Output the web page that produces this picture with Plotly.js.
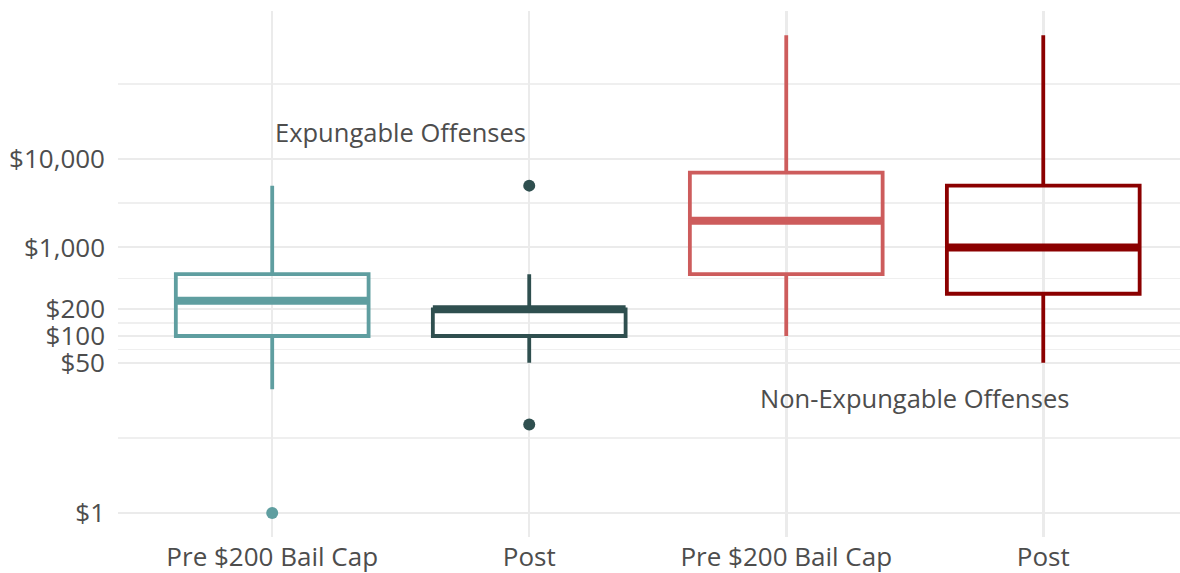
<!DOCTYPE html>
<html>
<head>
<meta charset="utf-8">
<script src="https://cdn.plot.ly/plotly-3.0.1.min.js"></script>
<style>html,body{margin:0;padding:0;background:#fff;}#chart{width:1180px;height:573px;}</style>
</head>
<body>
<div id="chart"></div>
<script>
// ---- data ----
const categories = ['Pre $200 Bail Cap', 'Post', 'Pre $200 Bail Cap', 'Post'];
const lowerWhisker = [25, 50, 100, 50];
const q1Values = [100, 100, 500, 300];
const medianValues = [250, 200, 2000, 1000];
const q3Values = [500, 200, 7000, 5000];
const upperWhisker = [5000, 500, 250000, 250000];
const outlierIndex = [0, 1, 1];
const outlierValues = [1, 5000, 10];
const colors = ['#5F9EA0', '#2F4F4F', '#CD5C5C', '#8B0000'];
const yTickVals = [1, 50, 100, 200, 1000, 10000];
const yTickText = ['$1', '$50', '$100', '$200', '$1,000', '$10,000'];
const yMinorVals = [7.07, 70.7, 141, 447, 3162, 70700];
const groupLabels = ['Expungable Offenses', 'Non-Expungable Offenses'];
const groupLabelX = [0.5, 2.5];
const groupLabelY = [20000, 20];

const boxWidth = 0.75;
const traces = [];
categories.forEach((c, i) => {
  traces.push({
    type: 'box', x: [i],
    q1: [q1Values[i]], median: [medianValues[i]], q3: [q3Values[i]],
    lowerfence: [lowerWhisker[i]], upperfence: [upperWhisker[i]],
    width: boxWidth, whiskerwidth: 0, boxpoints: false,
    fillcolor: 'rgba(255,255,255,0)',
    line: {color: colors[i], width: 3.8},
    hoverinfo: 'skip', showlegend: false
  });
});
categories.forEach((c, i) => {
  traces.push({
    type: 'scatter', mode: 'lines',
    x: [i - boxWidth / 2, i + boxWidth / 2],
    y: [medianValues[i], medianValues[i]],
    line: {color: colors[i], width: 8},
    hoverinfo: 'skip', showlegend: false
  });
});
traces.push({
  type: 'scatter', mode: 'markers',
  x: outlierIndex, y: outlierValues,
  marker: {color: outlierIndex.map(k => colors[k]), size: 12},
  hoverinfo: 'skip', showlegend: false
});

const textColor = '#4D4D4D';
const font = 'Open Sans, Lato, sans-serif';
const layout = {
  width: 1180, height: 573,
  margin: {l: 118, r: 0, t: 11, b: 36},
  paper_bgcolor: '#fff', plot_bgcolor: '#fff',
  font: {family: font, color: textColor, size: 24},
  showlegend: false,
  xaxis: {
    type: 'linear', range: [-0.6, 3.532],
    tickvals: [0, 1, 2, 3], ticktext: categories,
    showgrid: true, gridcolor: '#EBEBEB', gridwidth: 2.5,
    zeroline: false, showline: false, ticks: '',
    ticklabelstandoff: 2,
    tickfont: {size: 26, color: textColor, family: font},
    automargin: false, fixedrange: true
  },
  yaxis: {
    type: 'log', range: [-0.271, 5.672],
    tickvals: yTickVals, ticktext: yTickText,
    showgrid: true, gridcolor: '#EBEBEB', gridwidth: 2,
    minor: {tickvals: yMinorVals, showgrid: true, gridcolor: '#EFEFEF', gridwidth: 1.5, ticks: ''},
    zeroline: false, showline: false, ticks: '',
    ticklabelstandoff: 12,
    tickfont: {size: 26, color: textColor, family: font},
    automargin: false, fixedrange: true
  },
  annotations: groupLabels.map((t, i) => ({
    x: groupLabelX[i], y: Math.log10(groupLabelY[i]), xref: 'x', yref: 'y',
    text: t, showarrow: false,
    font: {size: 25.5, color: textColor, family: font}
  }))
};
Plotly.newPlot('chart', traces, layout, {staticPlot: true, displayModeBar: false});
</script>
</body>
</html>
